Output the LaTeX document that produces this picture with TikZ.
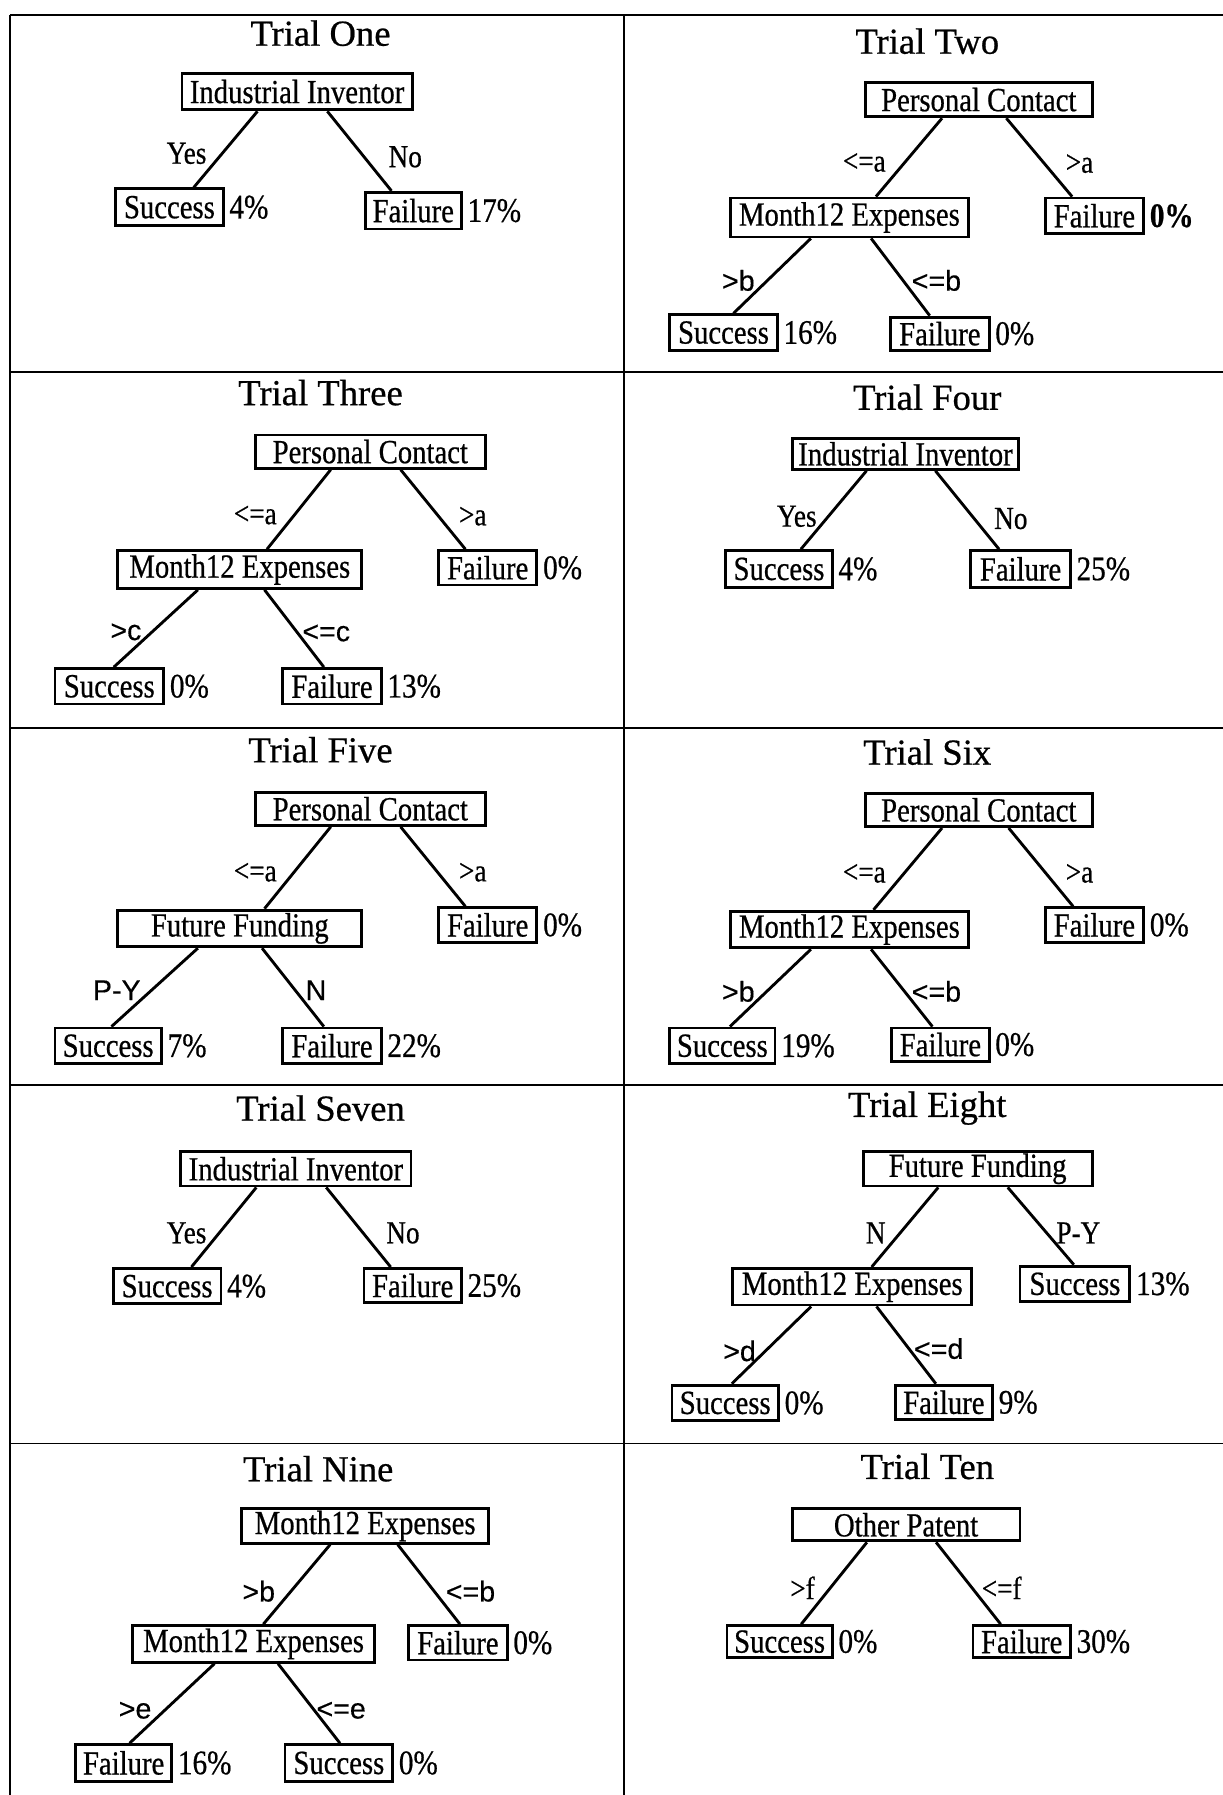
\documentclass[tikz,border=0pt]{standalone}
\usepackage{fontspec}
\setmainfont{Liberation Serif}
\newfontfamily\titleserif[FakeBold=0.6]{Liberation Serif}
\newfontfamily\narrowserif[FakeStretch=0.85,FakeBold=0.6]{Liberation Serif}
\newfontfamily\labelsans[FakeBold=0.3]{Liberation Sans}
\usetikzlibrary{calc}

\tikzset{
  tbox/.style={draw, line width=2.5pt, inner sep=0pt,
               font=\narrowserif\fontsize{29.5}{30}\selectfont},
  ttl/.style={inner sep=0pt, font=\titleserif\fontsize{32}{32}\selectfont},
  pct/.style={anchor=west, inner sep=0pt, xshift=4pt,
              font=\narrowserif\fontsize{30}{30}\selectfont},
  lab/.style={inner sep=0pt, font=\narrowserif\fontsize{28}{28}\selectfont},
  labs/.style={inner sep=0pt, font=\labelsans\fontsize{25}{25}\selectfont},
  branch/.style={line width=2.5pt},
  rule/.style={line width=1.5pt}
}

% box given by its corners: name, x1, y1, x2, y2, text
\newcommand\tb[6]{\node[tbox, minimum width={#4-#2}, minimum height={#5-#3}]
  (#1) at ({(#2+#4)/2},{(#3+#5)/2}) {#6};}
% branch from a fraction along the lower side of one box to a fraction along the upper side of another
\newcommand\br[4]{\draw[branch] ($(#1.south west)!#2!(#1.south east)$) --
  ($(#3.north west)!#4!(#3.north east)$);}
% rate written right of a leaf box
\newcommand\pc[3]{\node[pct] (#1) at (#2.east) {#3};}

\begin{document}
\begin{tikzpicture}[x=1pt, y=-1pt]
\useasboundingbox (0,0) rectangle (1068,1568);

% table rules
\draw[rule] (9,13) -- (9,1568);
\draw[rule] (545,13) -- (545,1568);
\foreach \yy in {13,325,636,948,1261} \draw[rule] (9,\yy) -- (1068,\yy);

% ---------- Trial One ----------
\node[ttl] (t1) at (280,29) {Trial One};
\tb{aR}{159}{64}{360}{96}{Industrial Inventor}
\tb{aS}{101}{165}{195}{197}{Success}
\tb{aF}{319}{168}{403}{200}{Failure}
\br{aR}{0.33}{aS}{0.72}
\br{aR}{0.63}{aF}{0.28}
\node[lab] (aL1) at (163,134) {Yes};
\node[lab] (aL2) at (354,137) {No};
\pc{aP1}{aS}{4\%}
\pc{aP2}{aF}{17\%}

% ---------- Trial Two ----------
\node[ttl] (t2) at (810,36) {Trial Two};
\tb{bR}{756}{72}{954}{102}{Personal Contact}
\tb{bM}{638}{173}{846}{207}{Month12 Expenses}
\tb{bF}{913}{173}{999}{204}{Failure}
\tb{bS2}{585}{275}{679}{306}{Success}
\tb{bF2}{778}{277}{864}{306}{Failure}
\br{bR}{0.34}{bM}{0.61}
\br{bR}{0.62}{bF}{0.28}
\br{bM}{0.34}{bS2}{0.59}
\br{bM}{0.59}{bF2}{0.40}
\node[lab] (bL1) at (755,142) {<=a};
\node[lab] (bL2) at (943,143) {>a};
\node[labs] (bL3) at (645,245) {>b};
\node[labs] (bL4) at (818,245) {<=b};
\node[pct] (bP1) at (bF.east) {\bfseries 0\%};
\pc{bP2}{bS2}{16\%}
\pc{bP3}{bF2}{0\%}

% ---------- Trial Three ----------
\node[ttl] (t3) at (280,343) {Trial Three};
\tb{cR}{223}{380}{424}{409}{Personal Contact}
\tb{cM}{103}{481}{316}{514}{Month12 Expenses}
\tb{cF}{383}{481}{469}{511}{Failure}
\tb{cS2}{48}{584}{143}{615}{Success}
\tb{cF2}{247}{584}{333}{615}{Failure}
\br{cR}{0.33}{cM}{0.61}
\br{cR}{0.63}{cF}{0.28}
\br{cM}{0.33}{cS2}{0.54}
\br{cM}{0.60}{cF2}{0.42}
\node[lab] (cL1) at (223,450) {<=a};
\node[lab] (cL2) at (413,451) {>a};
\node[labs] (cL3) at (110,552) {>c};
\node[labs] (cL4) at (285,553) {<=c};
\pc{cP1}{cF}{0\%}
\pc{cP2}{cS2}{0\%}
\pc{cP3}{cF2}{13\%}

% ---------- Trial Four ----------
\node[ttl] (t4) at (810,347) {Trial Four};
\tb{dR}{692}{383}{890}{410}{Industrial Inventor}
\tb{dS}{634}{481}{727}{513}{Success}
\tb{dF}{848}{481}{935}{513}{Failure}
\br{dR}{0.33}{dS}{0.70}
\br{dR}{0.63}{dF}{0.29}
\node[lab] (dL1) at (696,451) {Yes};
\node[lab] (dL2) at (883,453) {No};
\pc{dP1}{dS}{4\%}
\pc{dP2}{dF}{25\%}

% ---------- Trial Five ----------
\node[ttl] (t5) at (280,655) {Trial Five};
\tb{eR}{223}{692}{424}{721}{Personal Contact}
\tb{eM}{103}{795}{316}{827}{Future Funding}
\tb{eF}{383}{793}{469}{823}{Failure}
\tb{eS2}{48}{898}{141}{929}{Success}
\tb{eF2}{247}{898}{333}{929}{Failure}
\br{eR}{0.33}{eM}{0.60}
\br{eR}{0.63}{eF}{0.28}
\br{eM}{0.33}{eS2}{0.53}
\br{eM}{0.59}{eF2}{0.42}
\node[lab] (eL1) at (223,762) {<=a};
\node[lab] (eL2) at (413,762) {>a};
\node[labs] (eL3) at (102,865) {P-Y};
\node[labs] (eL4) at (276,865) {N};
\pc{eP1}{eF}{0\%}
\pc{eP2}{eS2}{7\%}
\pc{eP3}{eF2}{22\%}

% ---------- Trial Six ----------
\node[ttl] (t6) at (810,657) {Trial Six};
\tb{fR}{756}{693}{954}{722}{Personal Contact}
\tb{fM}{638}{796}{846}{828}{Month12 Expenses}
\tb{fF}{913}{793}{999}{823}{Failure}
\tb{fS2}{585}{898}{677}{929}{Success}
\tb{fF2}{779}{898}{864}{927}{Failure}
\br{fR}{0.34}{fM}{0.60}
\br{fR}{0.63}{fF}{0.29}
\br{fM}{0.34}{fS2}{0.57}
\br{fM}{0.59}{fF2}{0.42}
\node[lab] (fL1) at (755,763) {<=a};
\node[lab] (fL2) at (943,763) {>a};
\node[labs] (fL3) at (645,866) {>b};
\node[labs] (fL4) at (818,866) {<=b};
\pc{fP1}{fF}{0\%}
\pc{fP2}{fS2}{19\%}
\pc{fP3}{fF2}{0\%}

% ---------- Trial Seven ----------
\node[ttl] (t7) at (280,968) {Trial Seven};
\tb{gR}{158}{1006}{359}{1036}{Industrial Inventor}
\tb{gS}{99}{1108}{193}{1139}{Success}
\tb{gF}{318}{1108}{403}{1138}{Failure}
\br{gR}{0.33}{gS}{0.72}
\br{gR}{0.63}{gF}{0.28}
\node[lab] (gL1) at (163,1077) {Yes};
\node[lab] (gL2) at (352,1077) {No};
\pc{gP1}{gS}{4\%}
\pc{gP2}{gF}{25\%}

% ---------- Trial Eight ----------
\node[ttl] (t8) at (810,968) {Trial Eight};
\tb{hR}{754}{1006}{954}{1036}{Future Funding}
\tb{hM}{640}{1108}{849}{1140}{Month12 Expenses}
\tb{hS}{891}{1106}{987}{1137}{Success}
\tb{hS2}{587}{1210}{680}{1241}{Success}
\tb{hF2}{782}{1210}{867}{1240}{Failure}
\br{hR}{0.33}{hM}{0.58}
\br{hR}{0.63}{hS}{0.49}
\br{hM}{0.33}{hS2}{0.56}
\br{hM}{0.60}{hF2}{0.42}
\node[lab] (hL1) at (765,1077) {N};
\node[lab] (hL2) at (942,1077) {P-Y};
\node[labs] (hL3) at (646,1180) {>d};
\node[labs] (hL4) at (820,1178) {<=d};
\pc{hP1}{hS}{13\%}
\pc{hP2}{hS2}{0\%}
\pc{hP3}{hF2}{9\%}

% ---------- Trial Nine ----------
\node[ttl] (t9) at (278,1283) {Trial Nine};
\tb{iR}{211}{1318}{427}{1348}{Month12 Expenses}
\tb{iM}{116}{1420}{327}{1452}{Month12 Expenses}
\tb{iF}{357}{1420}{443}{1450}{Failure}
\tb{iF2}{66}{1524}{150}{1556}{Failure}
\tb{iS2}{249}{1524}{343}{1556}{Success}
\br{iR}{0.36}{iM}{0.54}
\br{iR}{0.63}{iF}{0.52}
\br{iM}{0.34}{iF2}{0.56}
\br{iM}{0.60}{iS2}{0.51}
\node[labs] (iL1) at (226,1390) {>b};
\node[labs] (iL2) at (411,1390) {<=b};
\node[labs] (iL3) at (118,1494) {>e};
\node[labs] (iL4) at (298,1494) {<=e};
\pc{iP1}{iF}{0\%}
\pc{iP2}{iF2}{16\%}
\pc{iP3}{iS2}{0\%}

% ---------- Trial Ten ----------
\node[ttl] (t10) at (810,1281) {Trial Ten};
\tb{jR}{692}{1318}{891}{1346}{Other Patent}
\tb{jS}{635}{1420}{727}{1448}{Success}
\tb{jF}{850}{1420}{935}{1448}{Failure}
\br{jR}{0.33}{jS}{0.70}
\br{jR}{0.63}{jF}{0.29}
\node[lab] (jL1) at (701,1387) {>f};
\node[lab] (jL2) at (875,1387) {<=f};
\pc{jP1}{jS}{0\%}
\pc{jP2}{jF}{30\%}
\end{tikzpicture}
\end{document}
